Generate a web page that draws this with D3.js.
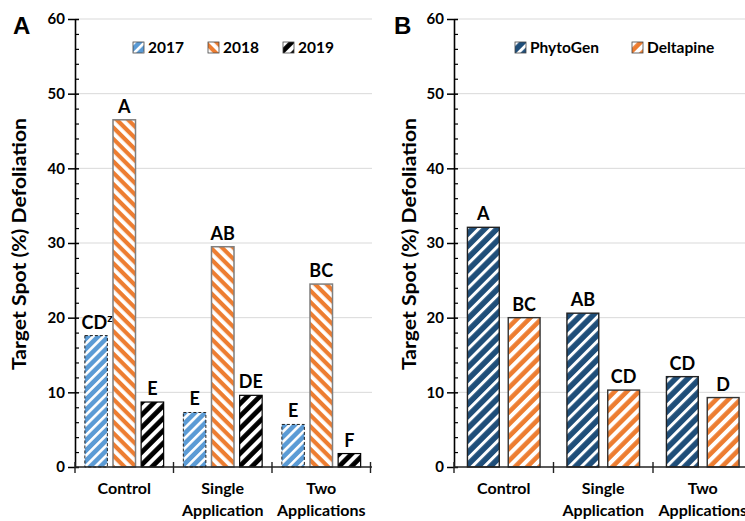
<!DOCTYPE html>
<html><head><meta charset="utf-8">
<script src="https://cdn.jsdelivr.net/npm/d3@7"></script>
<style>body{margin:0;background:#fff} svg{display:block}</style>
</head><body><svg id="c" width="745" height="521"></svg>
<script>
// ---------- data ----------
const categories = ["Control", "Single Application", "Two Applications"];
const categoryLines = [["Control"], ["Single", "Application"], ["Two", "Applications"]];
const yTicks = [0, 10, 20, 30, 40, 50, 60];
const yMinorTicks = [2, 4, 6, 8, 12, 14, 16, 18, 22, 24, 26, 28, 32, 34, 36, 38, 42, 44, 46, 48, 52, 54, 56, 58];

const seriesA = ["2017", "2018", "2019"];
const valuesA2017 = [17.6, 7.3, 5.7];
const valuesA2018 = [46.5, 29.5, 24.5];
const valuesA2019 = [8.7, 9.6, 1.8];
const lettersA2017 = ["CD", "E", "E"];
const lettersA2018 = ["A", "AB", "BC"];
const lettersA2019 = ["E", "DE", "F"];
const superA2017 = ["z", "", ""];

const seriesB = ["PhytoGen", "Deltapine"];
const valuesBPhytoGen = [32.1, 20.6, 12.1];
const valuesBDeltapine = [20.0, 10.3, 9.3];
const lettersBPhytoGen = ["A", "AB", "CD"];
const lettersBDeltapine = ["BC", "CD", "D"];

const yTitle = "Target Spot (%) Defoliation";

// ---------- setup ----------
const svg = d3.select("#c");
const FONT = "Lato, 'Open Sans', sans-serif";
const defs = svg.append("defs");

function stripe(id, color, sw, period, angle) {
  const p = defs.append("pattern").attr("id", id)
    .attr("patternUnits", "userSpaceOnUse")
    .attr("width", period).attr("height", period)
    .attr("patternTransform", `rotate(${angle})`);
  p.append("rect").attr("width", period).attr("height", period).attr("fill", color);
  p.append("rect").attr("width", sw).attr("height", period).attr("fill", "#fff");
}
stripe("p2017", "#5b9bd5", 2.6, 7.2, 45);
stripe("p2018", "#ed7d31", 3.8, 8, -45);
stripe("p2019", "#000000", 4, 8.8, 45);
stripe("pPhyto", "#1f4e79", 3, 8.6, 45);
stripe("pDelta", "#ed7d31", 4, 8.6, 45);

const y = d3.scaleLinear().domain([0, 60]).range([467, 19]);

function panel(cfg) {
  const g = svg.append("g");
  const x0 = d3.scaleBand().domain(categories).range([cfg.left, cfg.right])
    .paddingInner(cfg.padIn).paddingOuter(cfg.padOut);
  const x1 = d3.scaleBand().domain(cfg.series).range([0, x0.bandwidth()]).paddingInner(cfg.padSeries);
  const step = x0.step();
  const start = cfg.left;

  // gridlines
  g.append("g").selectAll("line").data(yTicks.filter(d => d > 0)).join("line")
    .attr("x1", cfg.left).attr("x2", cfg.gridRight)
    .attr("y1", d => y(d)).attr("y2", d => y(d))
    .attr("stroke", "#d9d9d9").attr("stroke-width", 1);

  // bars
  cfg.series.forEach((s, si) => {
    const st = cfg.styles[si];
    g.append("g").selectAll("rect").data(cfg.values[si]).join("rect")
      .attr("x", (d, i) => x0(categories[i]) + x1(s))
      .attr("y", d => y(d))
      .attr("width", x1.bandwidth())
      .attr("height", d => y(0) - y(d))
      .attr("fill", `url(#${st.pat})`)
      .attr("stroke", st.stroke).attr("stroke-width", st.sw)
      .attr("stroke-dasharray", st.dash || null);
    // letters
    const t = g.append("g").selectAll("text").data(cfg.values[si]).join("text")
      .attr("x", (d, i) => x0(categories[i]) + x1(s) + x1.bandwidth() / 2 + ((cfg.supers && cfg.supers[si] && cfg.supers[si][i]) ? 1 : 0))
      .attr("y", d => y(d) - 7)
      .attr("text-anchor", "middle")
      .attr("font-family", FONT).attr("font-weight", "bold").attr("font-size", 18)
      .attr("fill", "#000");
    t.each(function (d, i) {
      const el = d3.select(this);
      el.append("tspan").text(cfg.letters[si][i]);
      if (cfg.supers && cfg.supers[si] && cfg.supers[si][i]) {
        el.append("tspan").attr("font-size", 12).attr("dy", -7).text(cfg.supers[si][i]);
      }
    });
  });

  // y axis
  const ax = d3.axisLeft(y).tickValues(yTicks).tickSizeInner(7).tickSizeOuter(0).tickPadding(4);
  const ag = g.append("g").attr("transform", `translate(${cfg.left},0)`).call(ax);
  ag.select(".domain").attr("stroke", "#000").attr("stroke-width", 1.6);
  ag.selectAll(".tick line").attr("x1", 4).attr("stroke", "#000").attr("stroke-width", 1.5);
  ag.selectAll(".tick text").attr("font-family", FONT).attr("font-weight", "bold")
    .attr("font-size", 15).attr("fill", "#000").attr("x", -10);
  const mx = d3.axisLeft(y).tickValues(yMinorTicks).tickSizeInner(0).tickSizeOuter(0).tickFormat("");
  const mg = g.append("g").attr("transform", `translate(${cfg.left},0)`).call(mx);
  mg.select(".domain").remove();
  mg.selectAll(".tick line").attr("x1", 0).attr("x2", 4).attr("stroke", "#000").attr("stroke-width", 1.2);

  // x axis line + category ticks
  g.append("line").attr("x1", cfg.left).attr("x2", cfg.gridRight)
    .attr("y1", y(0)).attr("y2", y(0)).attr("stroke", "#222").attr("stroke-width", 1.4);
  g.append("g").selectAll("line").data(d3.range(categories.length + 1)).join("line")
    .attr("x1", i => start + i * step).attr("x2", i => start + i * step)
    .attr("y1", y(0) - 5).attr("y2", y(0) + 6)
    .attr("stroke", "#222").attr("stroke-width", 1.4);

  // category labels
  g.append("g").selectAll("text").data(categories).join("text")
    .attr("text-anchor", "middle")
    .attr("font-family", FONT).attr("font-weight", "bold").attr("font-size", 16).attr("fill", "#000")
    .each(function (c, i) {
      const el = d3.select(this);
      categoryLines[i].forEach((ln, k) => {
        el.append("tspan").attr("x", x0(c) + x0.bandwidth() / 2).attr("y", 494 + k * 22).text(ln);
      });
    });

  // y title
  g.append("text")
    .attr("transform", `translate(${cfg.titleX},244) rotate(-90)`)
    .attr("text-anchor", "middle")
    .attr("font-family", FONT).attr("font-weight", "bold").attr("font-size", 19)
    .attr("textLength", 252).attr("lengthAdjust", "spacingAndGlyphs")
    .attr("fill", "#000").text(yTitle);

  // panel letter
  g.append("text").attr("x", cfg.letterX).attr("y", 34)
    .attr("font-family", "'Liberation Sans', Arial, sans-serif").attr("font-weight", "bold")
    .attr("font-size", 24).attr("fill", "#000").text(cfg.panelLetter);

  // legend
  const lg = g.append("g").selectAll("g").data(cfg.series).join("g")
    .attr("transform", (d, i) => `translate(${cfg.legendX + i * cfg.legendStep},42)`);
  lg.append("rect").attr("width", 11).attr("height", 11)
    .attr("fill", (d, i) => `url(#${cfg.styles[i].pat})`)
    .attr("stroke", "#444").attr("stroke-width", 0.8);
  lg.append("text").attr("x", 15).attr("y", 10.5)
    .attr("font-family", FONT).attr("font-weight", "bold").attr("font-size", 15.5)
    .attr("fill", "#000").text(d => d);
}

panel({
  left: 75, right: 370.5, gridRight: 372, padIn: 0.2, padOut: 0.1, padSeries: 0.2,
  series: seriesA, values: [valuesA2017, valuesA2018, valuesA2019],
  letters: [lettersA2017, lettersA2018, lettersA2019], supers: [superA2017, null, null],
  styles: [
    { pat: "p2017", stroke: "#222", sw: 1, dash: "3,2" },
    { pat: "p2018", stroke: "#7f7f7f", sw: 1.5 },
    { pat: "p2019", stroke: "#000", sw: 1.2 }
  ],
  titleX: 26, letterX: 13, panelLetter: "A", legendX: 133, legendStep: 75
});

panel({
  left: 454, right: 752.5, gridRight: 745, padIn: 0.27, padOut: 0.135, padSeries: 0.22,
  series: seriesB, values: [valuesBPhytoGen, valuesBDeltapine],
  letters: [lettersBPhytoGen, lettersBDeltapine], supers: null,
  styles: [
    { pat: "pPhyto", stroke: "#222", sw: 1.4 },
    { pat: "pDelta", stroke: "#333", sw: 1.4 }
  ],
  titleX: 416, letterX: 394, panelLetter: "B", legendX: 515, legendStep: 117
});
</script>
</body></html>
